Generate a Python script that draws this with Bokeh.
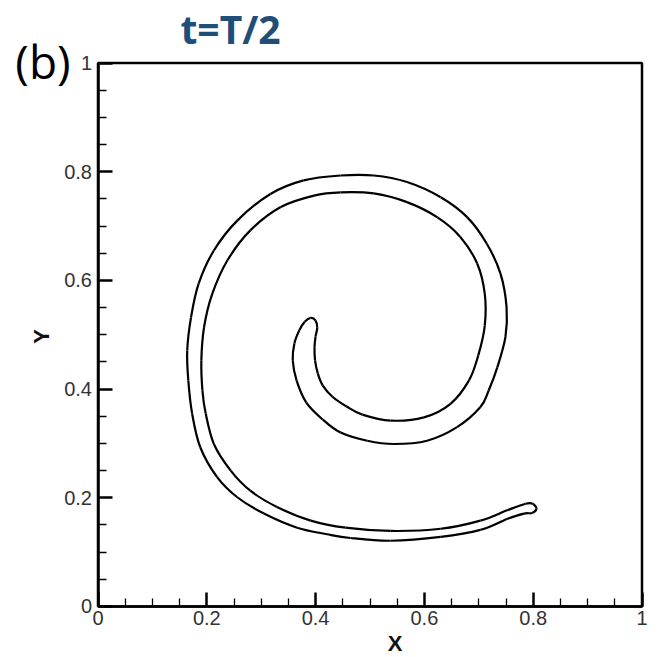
from bokeh.plotting import figure
from bokeh.models import Range1d, FixedTicker, Label, BoxAnnotation
from bokeh.embed import file_html
from bokeh.resources import INLINE

# Interface contour of the deformed drop (closed curve), traced along the
# outer edge from the tail tip, round the head, and back along the inner edge.
interface_x = [
    0.806, 0.798, 0.783, 0.752, 0.703, 0.630, 0.538, 0.464, 0.421, 0.366,
    0.305, 0.256, 0.219, 0.188, 0.173, 0.166, 0.164, 0.171, 0.185, 0.213,
    0.256, 0.317, 0.378, 0.446, 0.507, 0.568, 0.630, 0.679, 0.715, 0.740,
    0.751, 0.749, 0.734, 0.718, 0.703, 0.660, 0.605, 0.544, 0.495, 0.446,
    0.413, 0.383, 0.365, 0.358, 0.361, 0.370, 0.380, 0.391, 0.400, 0.403,
    0.400, 0.398, 0.399, 0.404, 0.413, 0.431, 0.457, 0.486, 0.538, 0.599,
    0.648, 0.682, 0.699, 0.711, 0.711, 0.697, 0.666, 0.624, 0.568, 0.507,
    0.446, 0.397, 0.336, 0.280, 0.238, 0.210, 0.195, 0.190, 0.192, 0.198,
    0.213, 0.244, 0.280, 0.329, 0.391, 0.455, 0.538, 0.630, 0.703, 0.752,
    0.786, 0.799,
]
interface_y = [
    0.180, 0.172, 0.171, 0.161, 0.141, 0.128, 0.121, 0.126, 0.133, 0.145,
    0.171, 0.201, 0.238, 0.293, 0.355, 0.416, 0.471, 0.532, 0.594, 0.655,
    0.710, 0.759, 0.784, 0.793, 0.793, 0.781, 0.753, 0.716, 0.667, 0.612,
    0.551, 0.496, 0.440, 0.397, 0.367, 0.330, 0.305, 0.299, 0.305, 0.320,
    0.344, 0.375, 0.416, 0.453, 0.484, 0.508, 0.524, 0.531, 0.526, 0.513,
    0.497, 0.477, 0.453, 0.429, 0.407, 0.386, 0.368, 0.353, 0.342, 0.348,
    0.373, 0.416, 0.462, 0.517, 0.575, 0.631, 0.680, 0.716, 0.744, 0.760,
    0.762, 0.756, 0.735, 0.692, 0.637, 0.575, 0.514, 0.453, 0.397, 0.355,
    0.299, 0.250, 0.213, 0.183, 0.158, 0.145, 0.139, 0.143, 0.158, 0.177,
    0.189, 0.189,
]

major_ticks = [0, 0.2, 0.4, 0.6, 0.8, 1]
major_labels = ["0", "0.2", "0.4", "0.6", "0.8", "1"]
minor_ticks = [0.05, 0.1, 0.15, 0.25, 0.3, 0.35, 0.45, 0.5, 0.55,
               0.65, 0.7, 0.75, 0.85, 0.9, 0.95]
domain = (0, 1)

# The canvas is all frame; the unit-square domain sits inside it with room
# around it for the tick labels, axis names and headings.
p = figure(
    width=664, height=657,
    x_range=Range1d(-0.17923, 1.04136), y_range=Range1d(-0.09384, 1.115),
    output_backend="svg", toolbar_location=None, min_border=0,
)
p.background_fill_color = "white"
p.border_fill_color = "white"
p.grid.visible = False
p.outline_line_color = None

for ax in (p.xaxis[0], p.yaxis[0]):
    ax.fixed_location = domain[0]
    ax.bounds = domain
    ax.ticker = FixedTicker(ticks=major_ticks, minor_ticks=minor_ticks)
    ax.major_label_overrides = dict(zip(major_ticks, major_labels))
    ax.axis_line_color = "black"
    ax.axis_line_width = 2.5
    ax.major_tick_line_color = "black"
    ax.major_tick_line_width = 2.5
    ax.minor_tick_line_color = "black"
    ax.minor_tick_line_width = 1.3
    ax.major_tick_in = 14
    ax.major_tick_out = 0
    ax.minor_tick_in = 8
    ax.minor_tick_out = 0
    ax.major_label_text_font = "Liberation Sans"
    ax.major_label_text_font_size = "20px"
    ax.major_label_text_color = "#333333"
p.yaxis.major_label_standoff = 6
p.xaxis.major_label_standoff = 5

# frame box round the domain
p.add_layout(BoxAnnotation(left=domain[0], right=domain[1],
                           bottom=domain[0], top=domain[1],
                           fill_alpha=0, line_color="black",
                           line_width=2.5, line_alpha=1))

# Smooth closed contour: one cubic Bezier per traced segment (Catmull-Rom
# tangents), so the curve passes through every traced point.
n = len(interface_x)
x0, y0, x1, y1, cx0, cy0, cx1, cy1 = ([] for _ in range(8))
for i in range(n):
    a, b = (i - 1) % n, (i + 1) % n
    c = (i + 2) % n
    x0.append(interface_x[i]); y0.append(interface_y[i])
    x1.append(interface_x[b]); y1.append(interface_y[b])
    cx0.append(interface_x[i] + (interface_x[b] - interface_x[a]) / 6)
    cy0.append(interface_y[i] + (interface_y[b] - interface_y[a]) / 6)
    cx1.append(interface_x[b] - (interface_x[c] - interface_x[i]) / 6)
    cy1.append(interface_y[b] - (interface_y[c] - interface_y[i]) / 6)
p.bezier(x0=x0, y0=y0, x1=x1, y1=y1, cx0=cx0, cy0=cy0, cx1=cx1, cy1=cy1,
         line_color="black", line_width=2.2)

p.add_layout(Label(x=0.546, y=-0.069, text="X", text_font="Liberation Sans",
                   text_font_style="bold", text_font_size="22px",
                   text_color="#111111", text_align="center",
                   text_baseline="middle"))
p.add_layout(Label(x=-0.104, y=0.497, text="Y", text_font="Liberation Sans",
                   text_font_style="bold", text_font_size="22px",
                   text_color="#111111", text_align="center",
                   text_baseline="middle", angle=1.5708))
p.add_layout(Label(x=0.2436, y=1.063, text="t=T/2", text_font="Open Sans",
                   text_font_style="bold", text_font_size="39px",
                   text_color="#1F4E79", text_align="center",
                   text_baseline="middle"))
p.add_layout(Label(x=-0.152, y=1.003, text="(b)", text_font="Open Sans",
                   text_font_size="46px", text_color="black",
                   text_align="left", text_baseline="middle"))

open("out.html", "w").write(file_html(p, INLINE))
